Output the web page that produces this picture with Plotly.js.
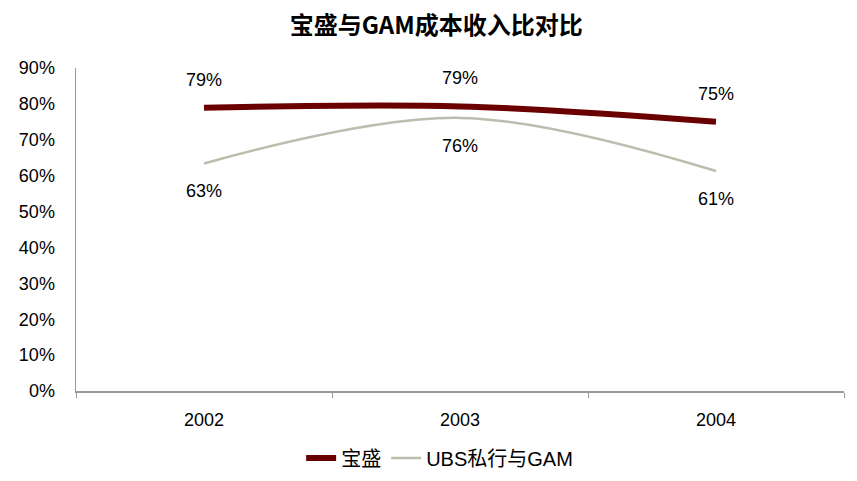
<!DOCTYPE html>
<html>
<head>
<meta charset="utf-8">
<script src="https://cdn.plot.ly/plotly-3.0.1.min.js"></script>
<style>html,body{margin:0;padding:0;background:#fff;}#chart{width:857px;height:481px;}</style>
</head>
<body>
<div id="chart"></div>
<script>
const categories = ["2002", "2003", "2004"];
const seriesNames = ["宝盛", "UBS私行与GAM"];
const baoshengValues = [78.9, 79.3, 75.0];
const ubsValues = [63.4, 76.1, 61.3];
const yTickValues = [0, 10, 20, 30, 40, 50, 60, 70, 80, 90];
const yTickLabels = ["0%", "10%", "20%", "30%", "40%", "50%", "60%", "70%", "80%", "90%"];

const FONT = "Liberation Sans, Arial, Noto Sans CJK SC, sans-serif";
const CJK = "Noto Sans CJK SC, Liberation Sans, sans-serif";

const traces = [
  {
    x: categories, y: baoshengValues, name: seriesNames[0], type: "scatter", mode: "lines",
    line: {color: "#6B0000", width: 6, shape: "spline", smoothing: 1}
  },
  {
    x: categories, y: ubsValues, name: seriesNames[1], type: "scatter", mode: "lines",
    line: {color: "#BDBDAE", width: 2.5, shape: "spline", smoothing: 1}
  }
];

const annotations = [];
categories.forEach((c, i) => {
  annotations.push({x: i, y: baoshengValues[i], xref: "x", yref: "y", text: Math.round(baoshengValues[i]) + "%",
    showarrow: false, yshift: 28, font: {family: FONT, size: 18, color: "#000"}});
  annotations.push({x: i, y: ubsValues[i], xref: "x", yref: "y", text: Math.round(ubsValues[i]) + "%",
    showarrow: false, yshift: -28, font: {family: FONT, size: 18, color: "#000"}});
});

const layout = {
  width: 857, height: 481,
  margin: {l: 76, r: 13, t: 68, b: 90},
  paper_bgcolor: "#fff", plot_bgcolor: "#fff",
  font: {family: FONT, size: 18, color: "#000"},
  title: {text: "<b>宝盛与GAM成本收入比对比</b>", font: {family: CJK, size: 24, color: "#000"},
    x: 0.509, xref: "container", xanchor: "center", y: 0.946, yref: "container", yanchor: "middle"},
  xaxis: {
    type: "category", range: [-0.5, 2.5], showline: true, linecolor: "#999", linewidth: 1.5,
    ticks: "outside", tickson: "boundaries", ticklen: 5, tickcolor: "#999", tickwidth: 1,
    ticklabelstandoff: 12,
    showgrid: false, zeroline: false, fixedrange: true,
    tickfont: {family: FONT, size: 18, color: "#000"}
  },
  yaxis: {
    range: [0, 90], tickvals: yTickValues, ticktext: yTickLabels,
    showline: true, linecolor: "#999", linewidth: 1.5, ticks: "", showgrid: false, zeroline: false,
    ticklabelstandoff: 16, tickfont: {family: FONT, size: 18, color: "#000"}, fixedrange: true
  },
  showlegend: true,
  legend: {orientation: "h", xref: "container", yref: "container", x: 0.513, xanchor: "center", y: 0.048, yanchor: "middle",
    font: {family: FONT, size: 20, color: "#000"}, bgcolor: "rgba(0,0,0,0)"},
  annotations: annotations
};

Plotly.newPlot("chart", traces, layout, {displayModeBar: false, staticPlot: true});
</script>
</body>
</html>
